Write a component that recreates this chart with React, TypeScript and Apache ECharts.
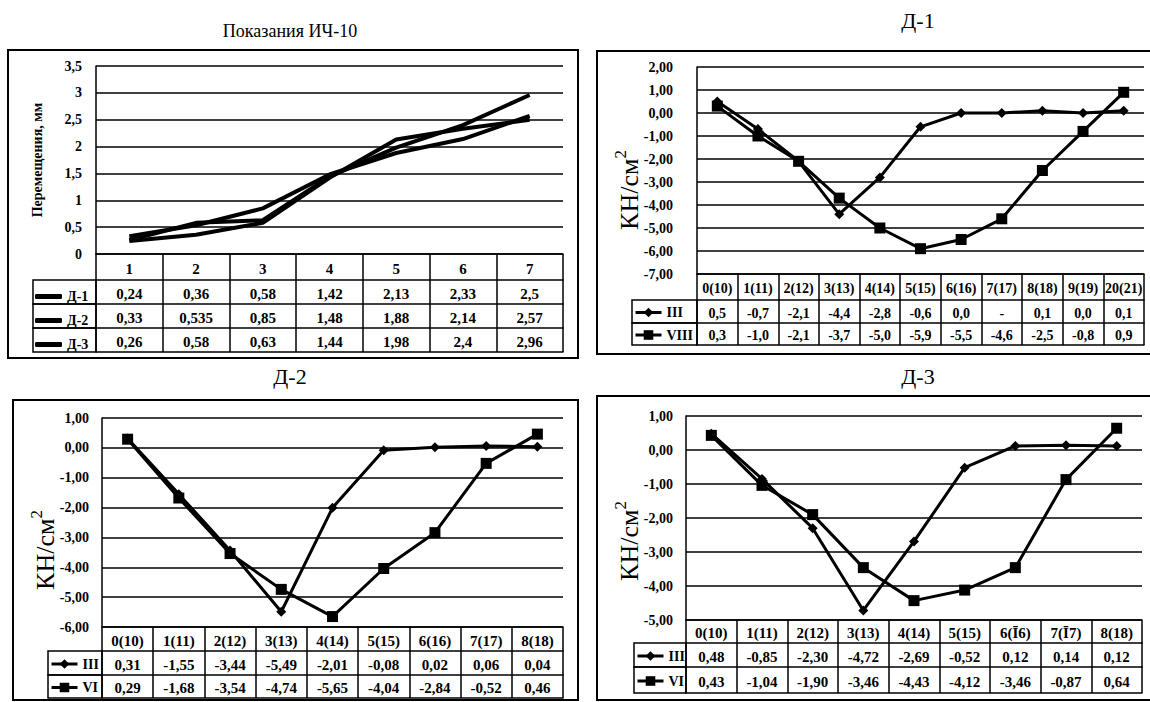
import { useEffect, useRef } from 'react';
import * as echarts from 'echarts';

const FONT = "'Liberation Serif', 'Times New Roman', serif";
const BLACK = '#000';

// ---------- Data: Показания ИЧ-10 ----------
const tlCategories = ['1', '2', '3', '4', '5', '6', '7'];
const tlD1 = [0.24, 0.36, 0.58, 1.42, 2.13, 2.33, 2.5];
const tlD2 = [0.33, 0.535, 0.85, 1.48, 1.88, 2.14, 2.57];
const tlD3 = [0.26, 0.58, 0.63, 1.44, 1.98, 2.4, 2.96];
const tlYTicks = { min: 0, max: 3.5, interval: 0.5 };

// ---------- Data: Д-1 ----------
const d1Categories = ['0(10)', '1(11)', '2(12)', '3(13)', '4(14)', '5(15)', '6(16)', '7(17)', '8(18)', '9(19)', '20(21)'];
const d1III = [0.5, -0.7, -2.1, -4.4, -2.8, -0.6, 0.0, 0.0, 0.1, 0.0, 0.1];
const d1IIIMissingInTable = [7];
const d1VIII = [0.3, -1.0, -2.1, -3.7, -5.0, -5.9, -5.5, -4.6, -2.5, -0.8, 0.9];
const d1YTicks = { min: -7, max: 2, interval: 1 };

// ---------- Data: Д-2 ----------
const d2Categories = ['0(10)', '1(11)', '2(12)', '3(13)', '4(14)', '5(15)', '6(16)', '7(17)', '8(18)'];
const d2III = [0.31, -1.55, -3.44, -5.49, -2.01, -0.08, 0.02, 0.06, 0.04];
const d2VI = [0.29, -1.68, -3.54, -4.74, -5.65, -4.04, -2.84, -0.52, 0.46];
const d2YTicks = { min: -6, max: 1, interval: 1 };

// ---------- Data: Д-3 ----------
const d3Categories = ['0(10)', '1(11)', '2(12)', '3(13)', '4(14)', '5(15)', '6(Ī6)', '7(Ī7)', '8(18)'];
const d3III = [0.48, -0.85, -2.30, -4.72, -2.69, -0.52, 0.12, 0.14, 0.12];
const d3VI = [0.43, -1.04, -1.90, -3.46, -4.43, -4.12, -3.46, -0.87, 0.64];
const d3YTicks = { min: -5, max: 1, interval: 1 };

const fmtComma = (v: number) => String(v).replace('.', ',');
const fmt1 = (v: number) => v.toFixed(1).replace('.', ',');
const fmt2 = (v: number) => v.toFixed(2).replace('.', ',');

type Row = {
  name: string;
  values: number[];
  text: string[];
  symbol: string;
  symbolSize: number;
  lineWidth: number;
  h: number;
  legendIcon?: string;
};

type Panel = {
  categories: string[];
  rows: Row[];
  grid: { left: number; top: number; width: number; height: number };
  y: { min: number; max: number; interval: number };
  yFmt: (v: number) => string;
  yLabelMargin: number;
  yLabelSize: number;
  headerH: number;
  legendCellLeft: number;
  legendIconW: number;
  legendIconH: number;
  legendFont: number;
  tableFont: number;
  box: { x: number; y: number; w: number; h: number };
  title: { text: string; x: number; y: number; size: number };
  yName: { x: number; y: number; kind: 'plain' | 'kn' };
};

const panels: Panel[] = [
  {
    categories: tlCategories,
    rows: [
      { name: 'Д-1', values: tlD1, text: tlD1.map(fmtComma), symbol: 'none', symbolSize: 0, lineWidth: 4, h: 24, legendIcon: 'roundRect' },
      { name: 'Д-2', values: tlD2, text: tlD2.map(fmtComma), symbol: 'none', symbolSize: 0, lineWidth: 4, h: 24, legendIcon: 'roundRect' },
      { name: 'Д-3', values: tlD3, text: tlD3.map(fmtComma), symbol: 'none', symbolSize: 0, lineWidth: 4, h: 24, legendIcon: 'roundRect' },
    ],
    grid: { left: 96, top: 66, width: 467, height: 188 },
    y: tlYTicks,
    yFmt: fmtComma,
    yLabelMargin: 14,
    yLabelSize: 14,
    headerH: 26,
    legendCellLeft: 33,
    legendIconW: 27,
    legendIconH: 5,
    legendFont: 14,
    tableFont: 15,
    box: { x: 8, y: 50, w: 570, h: 308 },
    title: { text: 'Показания ИЧ-10', x: 290, y: 31, size: 18 },
    yName: { x: 37, y: 160, kind: 'plain' },
  },
  {
    categories: d1Categories,
    rows: [
      { name: 'III', values: d1III, text: d1III.map((v, i) => (d1IIIMissingInTable.includes(i) ? '-' : fmt1(v))), symbol: 'diamond', symbolSize: 10, lineWidth: 3, h: 23 },
      { name: 'VIII', values: d1VIII, text: d1VIII.map(fmt1), symbol: 'rect', symbolSize: 11, lineWidth: 3, h: 22 },
    ],
    grid: { left: 697, top: 67, width: 447, height: 207 },
    y: d1YTicks,
    yFmt: fmt2,
    yLabelMargin: 24,
    yLabelSize: 14,
    headerH: 26,
    legendCellLeft: 632,
    legendIconW: 26,
    legendIconH: 12,
    legendFont: 14,
    tableFont: 14,
    box: { x: 597, y: 51, w: 600, h: 303 },
    title: { text: 'Д-1', x: 918, y: 20, size: 22 },
    yName: { x: 627, y: 190, kind: 'kn' },
  },
  {
    categories: d2Categories,
    rows: [
      { name: 'III', values: d2III, text: d2III.map(fmt2), symbol: 'diamond', symbolSize: 10, lineWidth: 3, h: 24 },
      { name: 'VI', values: d2VI, text: d2VI.map(fmt2), symbol: 'rect', symbolSize: 11, lineWidth: 3, h: 23 },
    ],
    grid: { left: 102, top: 418, width: 461, height: 209 },
    y: d2YTicks,
    yFmt: fmt2,
    yLabelMargin: 13,
    yLabelSize: 14,
    headerH: 24,
    legendCellLeft: 48,
    legendIconW: 26,
    legendIconH: 12,
    legendFont: 14,
    tableFont: 15,
    box: { x: 13, y: 400, w: 565, h: 300 },
    title: { text: 'Д-2', x: 290, y: 376, size: 22 },
    yName: { x: 43, y: 550, kind: 'kn' },
  },
  {
    categories: d3Categories,
    rows: [
      { name: 'III', values: d3III, text: d3III.map(fmt2), symbol: 'diamond', symbolSize: 10, lineWidth: 3, h: 24 },
      { name: 'VI', values: d3VI, text: d3VI.map(fmt2), symbol: 'rect', symbolSize: 11, lineWidth: 3, h: 26 },
    ],
    grid: { left: 686, top: 416, width: 456, height: 204 },
    y: d3YTicks,
    yFmt: fmt2,
    yLabelMargin: 13,
    yLabelSize: 14,
    headerH: 23,
    legendCellLeft: 634,
    legendIconW: 26,
    legendIconH: 12,
    legendFont: 14,
    tableFont: 15,
    box: { x: 597, y: 396, w: 600, h: 304 },
    title: { text: 'Д-3', x: 918, y: 376, size: 22 },
    yName: { x: 627, y: 541, kind: 'kn' },
  },
];

const lineStyle = { color: BLACK, width: 1.5 };

function catAxis(gi: number, data: string[], offset: number, h: number, fontSize: number, formatter?: (v: string, i: number) => string, showLabel = true) {
  return {
    type: 'category',
    gridIndex: gi,
    data,
    position: 'bottom',
    offset,
    boundaryGap: true,
    axisLine: { show: true, onZero: false, lineStyle },
    axisTick: { show: h > 0, length: h, interval: 0, alignWithLabel: false, lineStyle },
    axisLabel: {
      show: showLabel,
      interval: 0,
      hideOverlap: false,
      margin: Math.max(1, Math.round((h - fontSize) / 2) + 1),
      color: BLACK,
      fontFamily: FONT,
      fontWeight: 'bold',
      fontSize,
      formatter,
    },
    splitLine: { show: false },
    axisPointer: { show: false },
  };
}

function buildOption() {
  const grid: any[] = [];
  const xAxis: any[] = [];
  const yAxis: any[] = [];
  const series: any[] = [];
  const legend: any[] = [];
  const graphic: any[] = [];

  panels.forEach((p, gi) => {
    // chart area border
    graphic.push({
      type: 'rect',
      silent: true,
      shape: { x: p.box.x, y: p.box.y, width: p.box.w, height: p.box.h },
      style: { fill: 'none', stroke: BLACK, lineWidth: 2 },
    });
    // title
    graphic.push({
      type: 'text',
      silent: true,
      x: p.title.x,
      y: p.title.y,
      style: { text: p.title.text, fill: BLACK, fontFamily: FONT, fontSize: p.title.size, align: 'center', verticalAlign: 'middle' },
    });
    // y axis name
    if (p.yName.kind === 'plain') {
      graphic.push({
        type: 'text',
        silent: true,
        x: p.yName.x,
        y: p.yName.y,
        rotation: Math.PI / 2,
        style: { text: 'Перемещения, мм', fill: BLACK, fontFamily: FONT, fontWeight: 'bold', fontSize: 14, align: 'center', verticalAlign: 'middle' },
      });
    } else {
      graphic.push({
        type: 'text',
        silent: true,
        x: p.yName.x,
        y: p.yName.y,
        rotation: Math.PI / 2,
        style: {
          text: '{a|КН/см}{b|2}',
          fill: BLACK,
          align: 'center',
          verticalAlign: 'middle',
          rich: {
            a: { fontFamily: FONT, fontSize: 26, lineHeight: 30, fill: BLACK, verticalAlign: 'bottom' },
            b: { fontFamily: FONT, fontSize: 17, lineHeight: 30, fill: BLACK, verticalAlign: 'top' },
          },
        },
      });
    }

    grid.push({ ...p.grid, containLabel: false });
    yAxis.push({
      type: 'value',
      gridIndex: gi,
      min: p.y.min,
      max: p.y.max,
      interval: p.y.interval,
      axisLine: { show: true, lineStyle },
      axisTick: { show: false },
      splitLine: { show: true, lineStyle },
      axisLabel: {
        margin: p.yLabelMargin,
        color: BLACK,
        fontFamily: FONT,
        fontWeight: 'bold',
        fontSize: p.yLabelSize,
        formatter: (v: number) => p.yFmt(v),
      },
      axisPointer: { show: false },
    });

    const headerIndex = xAxis.length;
    xAxis.push(catAxis(gi, p.categories, 0, p.headerH, p.tableFont));
    let off = p.headerH;
    const tableTop = p.grid.top + p.grid.height;
    p.rows.forEach((r) => {
      xAxis.push(catAxis(gi, p.categories, off, r.h, p.tableFont, (_v: string, i: number) => r.text[i]));
      const rowTop = tableTop + off;
      graphic.push({
        type: 'rect',
        silent: true,
        shape: { x: p.legendCellLeft, y: rowTop, width: p.grid.left - p.legendCellLeft, height: r.h },
        style: { fill: 'none', stroke: BLACK, lineWidth: 1.5 },
      });
      legend.push({
        data: [r.name],
        left: p.legendCellLeft + 2,
        top: rowTop + (r.h - p.legendIconH) / 2,
        padding: 0,
        itemGap: 2,
        itemWidth: p.legendIconW,
        itemHeight: p.legendIconH,
        selectedMode: false,
        icon: r.legendIcon,
        itemStyle: { color: BLACK },
        lineStyle: { color: BLACK, width: r.lineWidth },
        textStyle: { color: BLACK, fontFamily: FONT, fontWeight: 'bold', fontSize: p.legendFont },
      });
      off += r.h;
    });
    xAxis.push(catAxis(gi, p.categories, off, 0, p.tableFont, undefined, false));

    p.rows.forEach((r) => {
      series.push({
        type: 'line',
        name: r.name,
        xAxisIndex: headerIndex,
        yAxisIndex: gi,
        data: r.values,
        symbol: r.symbol,
        symbolSize: r.symbolSize,
        showSymbol: r.symbol !== 'none',
        lineStyle: { color: BLACK, width: r.lineWidth },
        itemStyle: { color: BLACK },
        emphasis: { disabled: true },
        z: 3,
      });
    });
  });

  return {
    animation: false,
    backgroundColor: '#fff',
    tooltip: { show: false },
    grid,
    xAxis,
    yAxis,
    series,
    legend,
    graphic: { elements: graphic },
  };
}

export default function App() {
  const ref = useRef<HTMLDivElement>(null);
  useEffect(() => {
    if (!ref.current) return;
    const chart = echarts.init(ref.current, null, { renderer: 'svg' });
    chart.setOption(buildOption() as any);
    return () => chart.dispose();
  }, []);
  return (
    <div
      ref={ref}
      style={{ position: 'absolute', left: 0, top: 0, width: 1150, height: 702, background: '#fff' }}
    />
  );
}
